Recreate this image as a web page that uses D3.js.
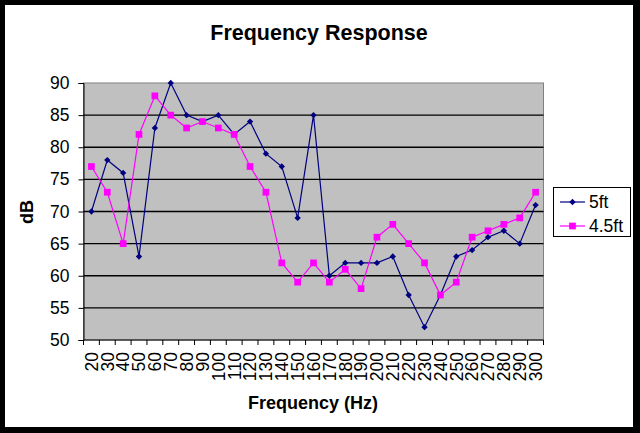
<!DOCTYPE html>
<html>
<head>
<meta charset="utf-8">
<script src="https://cdn.jsdelivr.net/npm/d3@7"></script>
<style>
  body { margin: 0; background: #000; }
  svg { display: block; font-family: Arial, "Liberation Sans", sans-serif; }
</style>
</head>
<body>
<script>
// data
let freqs = [20,30,40,50,60,70,80,90,100,110,120,130,140,150,160,170,180,190,200,210,220,230,240,250,260,270,280,290,300];
let ft5 = [70,78,76,63,83,90,85,84,85,82,84,79,77,69,85,60,62,62,62,63,57,52,57,63,64,66,67,65,71];
let ft45 = [77,73,65,82,88,85,83,84,83,82,77,73,62,59,62,59,61,58,66,68,65,62,57,59,66,67,68,69,73];
let yTicks = [50,55,60,65,70,75,80,85,90];
let seriesNames = ['5ft', '4.5ft'];

const W = 640, H = 433;
const NAVY = '#000080', PINK = '#FF00FF', PLOT_BG = '#C0C0C0';

let svg = d3.select('body')
    .append('svg')
        .attr('width', W)
        .attr('height', H);

// black frame + white page
svg.append('rect').attr('width', W).attr('height', H).attr('fill', '#000');
svg.append('rect')
    .attr('x', 5).attr('y', 5)
    .attr('width', 628).attr('height', 422)
    .attr('fill', '#fff');

let plot = {left: 83.5, right: 543.5, top: 83, bottom: 340};

let x = d3.scaleBand()
    .domain(freqs)
    .range([plot.left, plot.right]);
let y = d3.scaleLinear()
    .domain([50, 90])
    .range([plot.bottom, plot.top]);

// plot area
svg.append('rect')
    .attr('x', plot.left).attr('y', plot.top)
    .attr('width', plot.right - plot.left)
    .attr('height', plot.bottom - plot.top)
    .attr('fill', PLOT_BG)
    .attr('stroke', '#808080')
    .attr('stroke-width', 1);

// gridlines
svg.append('g')
    .selectAll('line')
    .data(yTicks.filter(d => d > 50 && d < 90))
    .join('line')
        .attr('x1', plot.left).attr('x2', plot.right)
        .attr('y1', d => y(d)).attr('y2', d => y(d))
        .attr('stroke', '#000')
        .attr('stroke-width', 1.3);

// y axis
let yAxis = svg.append('g')
    .attr('transform', `translate(${plot.left},0)`)
    .call(d3.axisLeft(y).tickValues(yTicks).tickSize(5).tickPadding(9));
yAxis.select('.domain').attr('stroke', '#000');
yAxis.selectAll('text')
    .attr('font-size', 17.5)
    .attr('font-family', 'Arial, "Liberation Sans", sans-serif')
    .attr('fill', '#000');

// x axis: ticks between categories
let xb = svg.append('g');
xb.append('line')
    .attr('x1', plot.left).attr('x2', plot.right)
    .attr('y1', plot.bottom).attr('y2', plot.bottom)
    .attr('stroke', '#000');
xb.selectAll('line.tk')
    .data(freqs.concat(['end']))
    .join('line')
        .attr('class', 'tk')
        .attr('x1', (d, i) => plot.left + i * x.bandwidth())
        .attr('x2', (d, i) => plot.left + i * x.bandwidth())
        .attr('y1', plot.bottom).attr('y2', plot.bottom + 5)
        .attr('stroke', '#000');
xb.selectAll('text')
    .data(freqs)
    .join('text')
        .attr('transform', d => `translate(${x(d) + x.bandwidth() / 2},352) rotate(-90)`)
        .attr('text-anchor', 'end')
        .attr('dy', '0.36em')
        .attr('font-size', 17.5)
        .text(d => d);

// lines + markers
let line = d3.line()
    .x((d, i) => x(freqs[i]) + x.bandwidth() / 2)
    .y(d => y(d));

// rot = 45 turns the square into an Excel-like diamond
function AddSeries(vals, color, sz, rot) {
    svg.append('path')
        .datum(vals)
        .attr('d', line)
        .attr('fill', 'none')
        .attr('stroke', color)
        .attr('stroke-width', 1.2);
    svg.append('g')
        .selectAll('path')
        .data(vals)
        .join('path')
            .attr('transform', (d, i) => `translate(${x(freqs[i]) + x.bandwidth() / 2},${y(d)}) rotate(${rot})`)
            .attr('d', d3.symbol().type(d3.symbolSquare).size(sz))
            .attr('fill', color);
}
AddSeries(ft5, NAVY, 20, 45);
AddSeries(ft45, PINK, 45, 0);

// titles
svg.append('text')
    .attr('x', 319).attr('y', 40)
    .attr('text-anchor', 'middle')
    .attr('font-size', 21.5)
    .attr('font-weight', 'bold')
    .text('Frequency Response');
svg.append('text')
    .attr('x', 313).attr('y', 409)
    .attr('text-anchor', 'middle')
    .attr('font-size', 18)
    .attr('font-weight', 'bold')
    .text('Frequency (Hz)');
svg.append('text')
    .attr('transform', `translate(33,212) rotate(-90)`)
    .attr('text-anchor', 'middle')
    .attr('font-size', 18)
    .attr('font-weight', 'bold')
    .text('dB');

// legend
let leg = svg.append('g');
leg.append('rect')
    .attr('x', 553.5).attr('y', 187.5)
    .attr('width', 77).attr('height', 49)
    .attr('fill', '#fff')
    .attr('stroke', '#000');
let legColors = [NAVY, PINK];
let legSizes = [20, 45];
let legRot = [45, 0];
seriesNames.forEach((name, i) => {
    let ly = 202 + i * 24;
    leg.append('line')
        .attr('x1', 560).attr('x2', 585)
        .attr('y1', ly).attr('y2', ly)
        .attr('stroke', legColors[i])
        .attr('stroke-width', 1.2);
    leg.append('path')
        .attr('transform', `translate(572.5,${ly}) rotate(${legRot[i]})`)
        .attr('d', d3.symbol().type(d3.symbolSquare).size(legSizes[i]))
        .attr('fill', legColors[i]);
    leg.append('text')
        .attr('x', 589).attr('y', ly)
        .attr('dy', '0.36em')
        .attr('font-size', 17.5)
        .text(name);
});
</script>
</body>
</html>
